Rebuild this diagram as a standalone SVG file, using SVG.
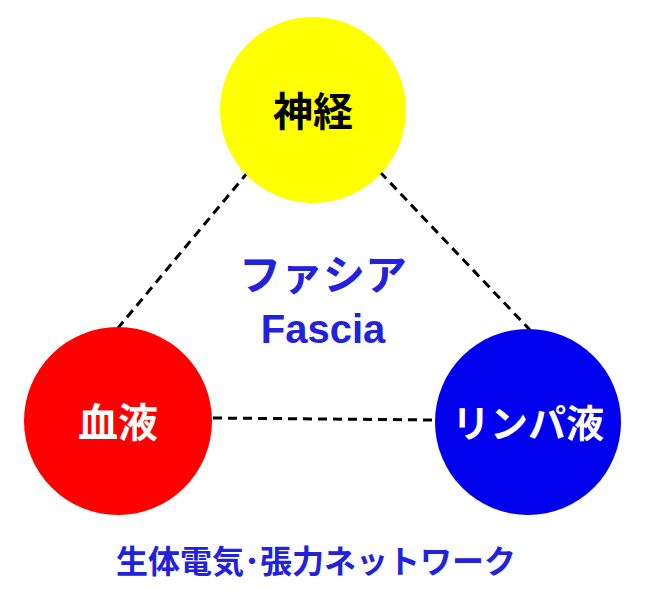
<svg xmlns="http://www.w3.org/2000/svg" width="650" height="603" viewBox="0 0 650 603">
<style>
.lbl{font-family:"Liberation Serif","Noto Sans CJK JP",serif;font-weight:bold;text-anchor:middle}
.blue{fill:#2222dd;font-family:"Liberation Sans","Noto Sans CJK JP",sans-serif;font-weight:bold;text-anchor:middle}
.c{stroke:#000;stroke-width:3;stroke-dasharray:9,6;fill:none}
</style>
<rect width="650" height="603" fill="#fff"/>
<g id="connectors">
<line class="c" x1="248" y1="172" x2="118" y2="328"/>
<line class="c" x1="380" y1="172" x2="530" y2="330"/>
<line class="c" x1="213" y1="418" x2="435" y2="420"/>
</g>
<g id="nerve"><circle cx="313" cy="110" r="93" fill="#ffff00"/><text class="lbl" x="313" y="126" font-size="40" fill="#000">神経</text></g>
<g id="blood"><circle cx="118" cy="421" r="94" fill="#ff0000"/><text class="lbl" x="118" y="437" font-size="40" fill="#fff">血液</text></g>
<g id="lymph"><circle cx="528" cy="422" r="93" fill="#0000ee"/><text class="lbl" x="528" y="437" font-size="38" fill="#fff">リンパ液</text></g>
<g id="fascia">
<text class="blue" x="323" y="290" font-size="42">ファシア</text>
<text class="blue" x="323" y="343" font-size="40">Fascia</text>
</g>
<text class="blue" x="316" y="573" font-size="32">生体電気･張力ネットワーク</text>
</svg>
